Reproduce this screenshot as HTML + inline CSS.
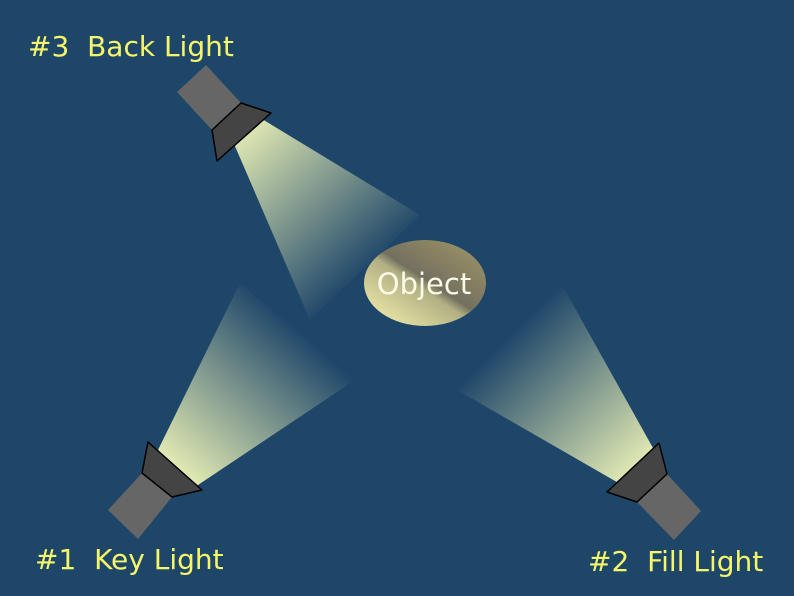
<!DOCTYPE html>
<html><head><meta charset="utf-8"><style>
html,body{margin:0;padding:0;background:#1e4669;}
svg{display:block;}
text{font-family:"DejaVu Sans","Liberation Sans",sans-serif;}
</style></head><body>
<svg width="794" height="596" viewBox="0 0 794 596" xmlns="http://www.w3.org/2000/svg">
<defs>
<linearGradient id="gb" gradientUnits="userSpaceOnUse" x1="240" y1="130" x2="370" y2="270">
<stop offset="0" stop-color="#e4ecb4"/><stop offset="1" stop-color="#e4ecb4" stop-opacity="0"/></linearGradient>
<linearGradient id="gk" gradientUnits="userSpaceOnUse" x1="175" y1="470" x2="300" y2="330">
<stop offset="0" stop-color="#e4ecb4"/><stop offset="1" stop-color="#e4ecb4" stop-opacity="0"/></linearGradient>
<linearGradient id="gf" gradientUnits="userSpaceOnUse" x1="640" y1="468" x2="510" y2="335">
<stop offset="0" stop-color="#e4ecb4"/><stop offset="1" stop-color="#e4ecb4" stop-opacity="0"/></linearGradient>
<linearGradient id="go" x1="0.15" y1="0.9" x2="0.85" y2="0.15">
<stop offset="0" stop-color="#e6e2a4"/><stop offset="0.45" stop-color="#b2b084"/><stop offset="0.55" stop-color="#747060"/><stop offset="1" stop-color="#948c64"/></linearGradient>
</defs>
<rect width="794" height="596" fill="#1e4669"/>
<polygon points="228,130 262,119 420,215 310,320" fill="url(#gb)"/>
<polygon points="158,450 195,487 355,380 240,283" fill="url(#gk)"/>
<polygon points="622,485 653,448 562,285 457,390" fill="url(#gf)"/>
<polygon points="177,92 206,65 241,103 212,130" fill="#666"/>
<polygon points="212,130 241,103 271,113 217,161" fill="#444" stroke="#000" stroke-width="1.5" stroke-linejoin="round"/>
<polygon points="108,510 142,473 172,497 138,539" fill="#666"/>
<polygon points="142,473 148,442 202,490 172,497" fill="#444" stroke="#000" stroke-width="1.5" stroke-linejoin="round"/>
<polygon points="637,502 667,474 701,511 674,540" fill="#666"/>
<polygon points="607,492 659,443 667,474 637,502" fill="#444" stroke="#000" stroke-width="1.5" stroke-linejoin="round"/>
<ellipse cx="425" cy="283" rx="61" ry="43" fill="url(#go)"/>
<text x="424" y="294" font-size="29" fill="#fafae6" text-anchor="middle">Object</text>
<text x="28" y="56" font-size="28" fill="#f6f66a" xml:space="preserve">#3  Back Light</text>
<text x="35" y="569" font-size="28" fill="#f6f66a" xml:space="preserve">#1  Key Light</text>
<text x="588" y="571" font-size="28" fill="#f6f66a" xml:space="preserve">#2  Fill Light</text>
</svg>
</body></html>
